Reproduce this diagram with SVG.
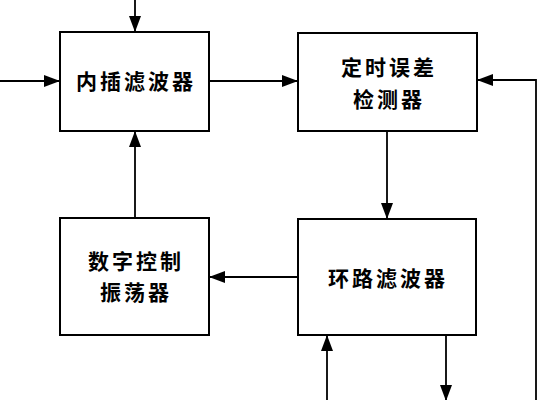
<svg xmlns="http://www.w3.org/2000/svg" width="538" height="400" viewBox="0 0 538 400">
<style>
.box{fill:#fff;stroke:#000;stroke-width:2}
.ln{fill:none;stroke:#000;stroke-width:1.8}
.t{font-family:"Noto Sans CJK SC","Noto Sans CJK JP",sans-serif;font-weight:bold;font-size:21px;letter-spacing:3px;text-anchor:middle;fill:#000}
</style>
<defs>
<marker id="ah" viewBox="0 0 16 12" refX="16" refY="6" markerWidth="16" markerHeight="12" markerUnits="userSpaceOnUse" orient="auto">
<path d="M0,0 L16,6 L0,12 Z" fill="#000"/>
</marker>
</defs>
<rect width="538" height="400" fill="#fff"/>
<g id="connectors">
<line class="ln" x1="135" y1="0" x2="135" y2="32" marker-end="url(#ah)"/>
<line class="ln" x1="0" y1="81" x2="60" y2="81" marker-end="url(#ah)"/>
<line class="ln" x1="209" y1="81" x2="298" y2="81" marker-end="url(#ah)"/>
<line class="ln" x1="387" y1="131" x2="387" y2="219" marker-end="url(#ah)"/>
<line class="ln" x1="298" y1="277" x2="209" y2="277" marker-end="url(#ah)"/>
<line class="ln" x1="135" y1="218" x2="135" y2="131" marker-end="url(#ah)"/>
<polyline class="ln" points="536,400 536,80 477,80" marker-end="url(#ah)"/>
<line class="ln" x1="327" y1="400" x2="327" y2="335" marker-end="url(#ah)"/>
<line class="ln" x1="446" y1="335" x2="446" y2="401" marker-end="url(#ah)"/>
</g>
<g id="interp">
<rect class="box" x="60" y="32" width="149" height="99"/>
<text class="t" x="136" y="89">内插滤波器</text>
</g>
<g id="ted">
<rect class="box" x="298" y="33" width="179" height="98"/>
<text class="t" x="389" y="75">定时误差</text>
<text class="t" x="389" y="107">检测器</text>
</g>
<g id="dco">
<rect class="box" x="60" y="218" width="149" height="117"/>
<text class="t" x="136" y="269">数字控制</text>
<text class="t" x="136" y="300">振荡器</text>
</g>
<g id="loopfilter">
<rect class="box" x="298" y="219" width="178" height="116"/>
<text class="t" x="388" y="286">环路滤波器</text>
</g>
</svg>
